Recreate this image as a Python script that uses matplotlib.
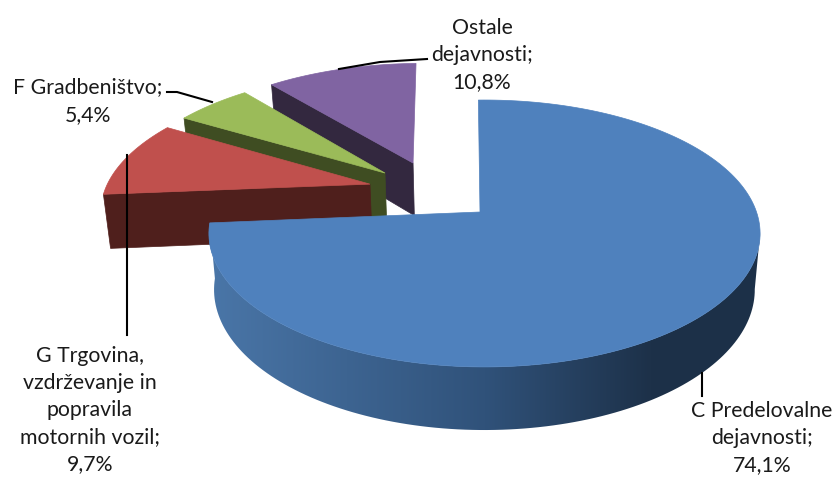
import numpy as np
import matplotlib
matplotlib.use("Agg")
import matplotlib.pyplot as plt
from matplotlib.colors import LinearSegmentedColormap
from matplotlib.patches import Polygon

categories = ["C Predelovalne dejavnosti", "G Trgovina", "F Gradbeništvo", "Ostale dejavnosti"]
values = [74.1, 9.7, 5.4, 10.8]

top_colors = ["#4F81BD", "#C0504D", "#9BBB59", "#8064A2"]
wall_colors = ["#2A4565", "#4F1F1C", "#3F4D22", "#33283F"]
# offset of each slice in the pie plane (explosion)
offsets = [(0, 0), (-0.419, 0.222), (-0.367, 0.315), (-0.262, 0.401)]
rim_shift = [4.5, 0, 0, 0]

CX, CY = 480, 212
A, B, K = 272, 130, 0.161
START = np.radians(-1.5)

rim_cmap = LinearSegmentedColormap.from_list(
    "rim", [(0, "#4A76A8"), (0.5, "#30527A"), (0.8, "#1D3149"), (1, "#1C3048")])


def project(X, Y):
    s = 1 / (1 + K * Y)
    return CX + A * X * s, CY - B * Y * s


def lower(x, y):
    return CX + (np.asarray(x) - CX) * 0.981, y + 44 + 0.052 * np.asarray(y)


fig = plt.figure(figsize=(8.34, 4.78), dpi=100)
ax = fig.add_axes([0, 0, 1, 1])

fracs = np.array(values) / sum(values)
stops = np.concatenate([[0], np.cumsum(fracs)]) * 2 * np.pi + START

for i in [3, 2, 1, 0]:
    t = np.linspace(stops[i], stops[i + 1], 200)
    ox, oy = offsets[i]
    xs, ys = project(np.sin(t) + ox, np.cos(t) + oy)
    xs = xs + rim_shift[i]
    ax0, ay0 = project(ox, oy)
    z = 10 - 2 * i

    if i > 0:
        # cut face on the start side of the slice
        bx, by = lower(xs[0], ys[0])
        cx, cy = lower(ax0, ay0)
        ax.fill([ax0, xs[0], bx, cx], [ay0, ys[0], by, cy], color=wall_colors[i], lw=0.5, zorder=z)
    else:
        # outer rim with the dark gradient, front part only
        j = np.argmax(xs)
        lx, ly = lower(xs[j:], ys[j:])
        rim = Polygon(np.c_[np.r_[xs[j:], lx[::-1]], np.r_[ys[j:], ly[::-1]]], closed=True,
                      facecolor="none", edgecolor="none", transform=ax.transData)
        ax.add_patch(rim)
        img = ax.imshow(np.linspace(0, 1, 256)[None, :], cmap=rim_cmap, aspect="auto",
                        extent=(208, 762, 440, 100), zorder=z)
        img.set_clip_path(rim)

    ax.fill(np.r_[ax0, xs], np.r_[ay0, ys], color=top_colors[i], lw=0.5, zorder=z + 1)

ax.set_xlim(0, 834)
ax.set_ylim(478, 0)
ax.axis("off")

# leader lines
ax.plot([339, 380, 427], [69, 62, 59], color="black", lw=1.5, zorder=20)
ax.plot([167, 177, 212], [92, 92, 102], color="black", lw=1.5, zorder=20)
ax.plot([127, 127], [155, 335], color="black", lw=1.5, zorder=20)
ax.plot([702, 702], [373, 396], color="black", lw=1.5, zorder=20)

font = dict(family="Lato", fontsize=15.3, color="#1A1A1A", ha="center", va="center", linespacing=1.45)
ax.text(482, 55, "Ostale\ndejavnosti;\n10,8%", **font)
ax.text(88, 101, "F Gradbeništvo;\n5,4%", **font)
ax.text(90, 410, "G Trgovina,\nvzdrževanje in\npopravila\nmotornih vozil;\n9,7%", **font)
ax.text(762, 438, "C Predelovalne\ndejavnosti;\n74,1%", **font)

fig.savefig("out.png", dpi=100)
